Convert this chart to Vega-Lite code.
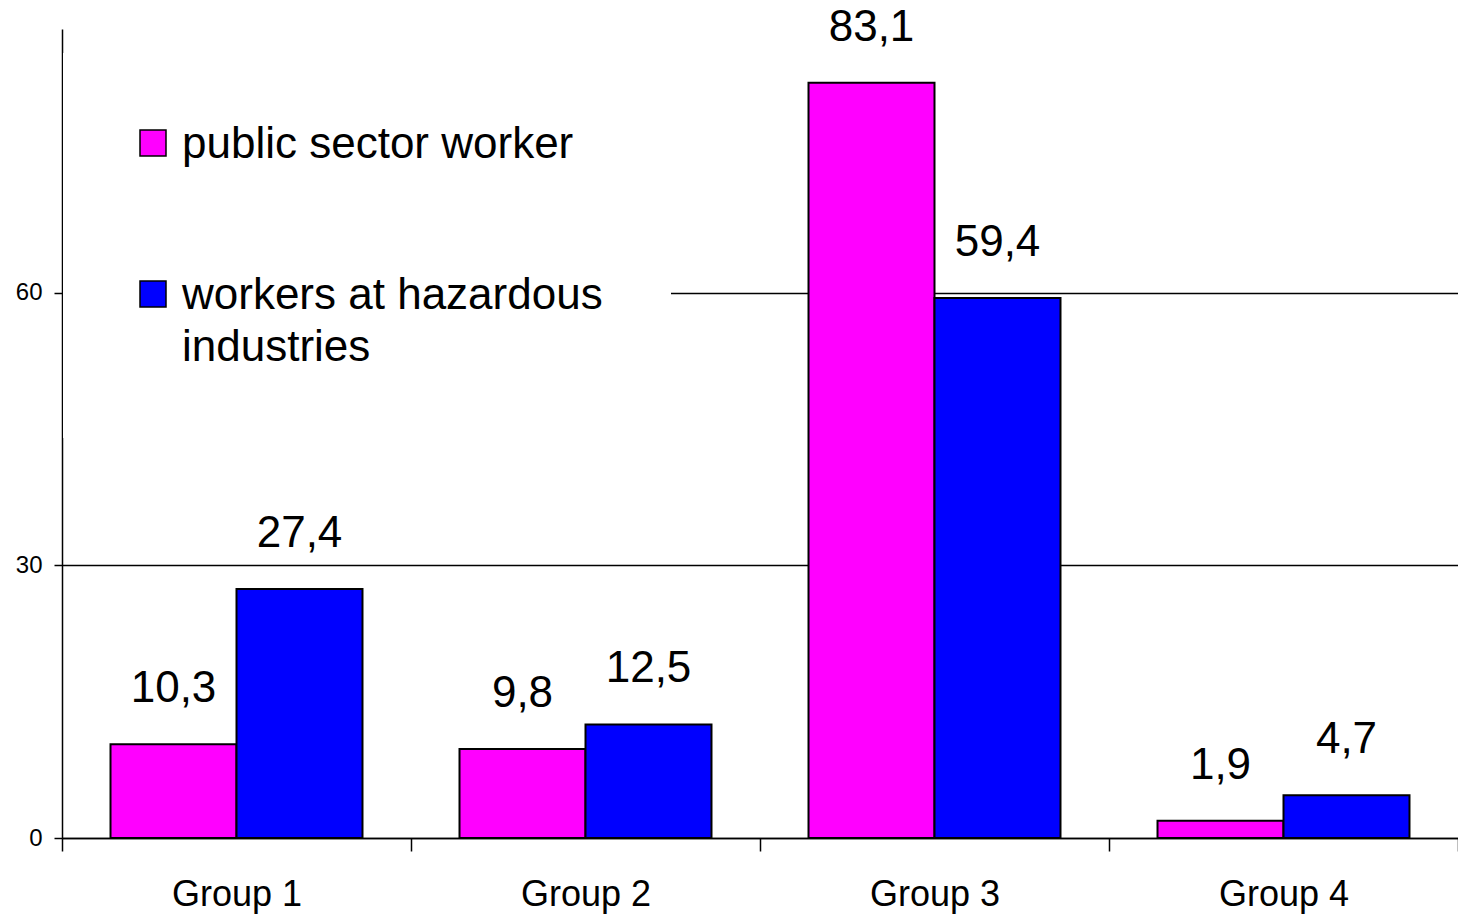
{
  "$schema": "https://vega.github.io/schema/vega-lite/v6.json",
  "width": 1396,
  "height": 809,
  "autosize": {"type": "none"},
  "padding": {"left": 62, "top": 29, "right": 0, "bottom": 76},
  "config": {
    "view": {"stroke": null},
    "font": "Liberation Sans",
    "locale": {"number": {"decimal": ",", "thousands": ".", "grouping": [3], "currency": ["", ""]}}
  },
  "data": {
    "values": [
      {"group": "Group 1", "series": "public sector worker", "value": 10.3},
      {"group": "Group 1", "series": "workers at hazardous industries", "value": 27.4},
      {"group": "Group 2", "series": "public sector worker", "value": 9.8},
      {"group": "Group 2", "series": "workers at hazardous industries", "value": 12.5},
      {"group": "Group 3", "series": "public sector worker", "value": 83.1},
      {"group": "Group 3", "series": "workers at hazardous industries", "value": 59.4},
      {"group": "Group 4", "series": "public sector worker", "value": 1.9},
      {"group": "Group 4", "series": "workers at hazardous industries", "value": 4.7}
    ]
  },
  "encoding": {
    "x": {
      "field": "group",
      "type": "nominal",
      "scale": {"paddingInner": 0, "paddingOuter": 0},
      "axis": {
        "title": null,
        "labelAngle": 0,
        "labelFontSize": 36,
        "labelColor": "black",
        "tickBand": "extent",
        "tickSize": 13,
        "tickColor": "black",
        "tickWidth": 1.5,
        "domainColor": "black",
        "domainWidth": 1.5,
        "labelPadding": 26,
        "grid": false
      }
    },
    "xOffset": {
      "field": "series",
      "type": "nominal",
      "sort": ["public sector worker", "workers at hazardous industries"],
      "scale": {"paddingInner": 0, "paddingOuter": 0.385}
    },
    "y": {
      "field": "value",
      "type": "quantitative",
      "scale": {"domain": [0, 89], "nice": false},
      "axis": {
        "title": null,
        "values": [0, 30, 60],
        "labelFontSize": 24,
        "labelColor": "black",
        "tickSize": 8,
        "tickColor": "black",
        "tickWidth": 1.5,
        "domainColor": "black",
        "domainWidth": 1.5,
        "labelPadding": 12,
        "grid": true,
        "gridColor": "black",
        "gridWidth": 1.5,
        "gridOpacity": 1
      }
    }
  },
  "layer": [
    {
      "mark": {"type": "bar", "stroke": "black", "strokeWidth": 2},
      "encoding": {
        "color": {
          "field": "series",
          "type": "nominal",
          "scale": {
            "domain": ["public sector worker", "workers at hazardous industries"],
            "range": ["#FF00FF", "#0000FF"]
          },
          "legend": {
            "orient": "none",
            "legendX": 1,
            "legendY": 24,
            "title": null,
            "fillColor": "white",
            "padding": 68,
            "symbolType": "square",
            "symbolSize": 676,
            "symbolStrokeColor": "black",
            "symbolStrokeWidth": 1.5,
            "symbolOpacity": 1,
            "labelFontSize": 44,
            "labelColor": "black",
            "labelOffset": 7,
            "labelLimit": 1000,
            "rowPadding": 105,
            "labelBaseline": "alphabetic",
            "labelExpr": "datum.label == 'workers at hazardous industries' ? ['workers at hazardous', 'industries'] : datum.label",
            "encode": {"labels": {"update": {"dy": {"value": 15}, "lineHeight": {"value": 52}}}}
          }
        }
      }
    },
    {
      "mark": {"type": "text", "dy": -42, "baseline": "alphabetic", "fontSize": 44, "color": "black"},
      "encoding": {
        "text": {"field": "value", "type": "quantitative", "format": ".1f"}
      }
    }
  ]
}
